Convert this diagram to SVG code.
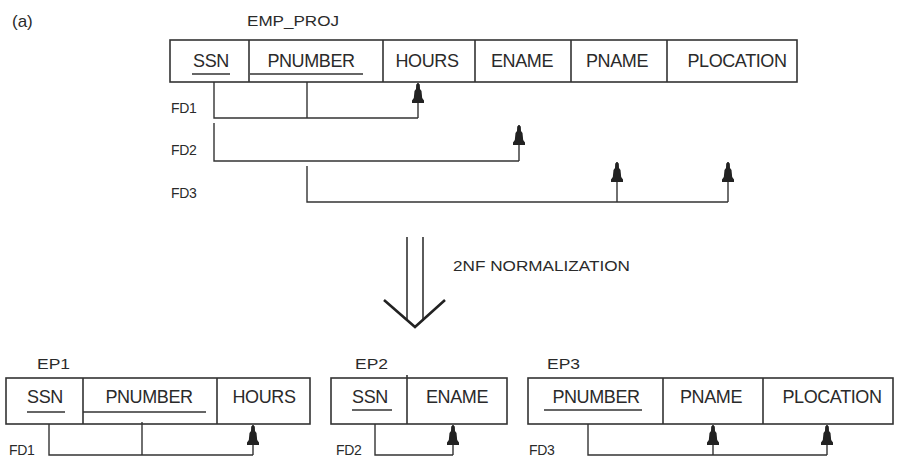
<svg xmlns="http://www.w3.org/2000/svg" width="898" height="457" viewBox="0 0 898 457">
<style>
  text { font-family: "Liberation Sans", Arial, sans-serif; fill: #2a2a2a; }
  .cell { font-size: 18px; text-anchor: middle; letter-spacing: -0.4px; }
  .lbl { font-size: 15px; }
  .fd { font-size: 14px; letter-spacing: -0.3px; }
  .box { fill: none; stroke: #333; stroke-width: 1.6; }
  .div { stroke: #333; stroke-width: 1.6; }
  .ul { stroke: #333; stroke-width: 1.4; }
  .fdl { fill: none; stroke: #333; stroke-width: 1.4; }
  .arr { fill: none; stroke: #333; stroke-width: 1.4; marker-end: url(#ah); }
</style>
<defs>
  <marker id="ah" markerUnits="userSpaceOnUse" markerWidth="26" markerHeight="16" viewBox="-2 -8 26 16" refX="20" refY="0" orient="auto" overflow="visible">
    <path d="M20,0 L18.5,-1.8 L14,-2 L12,-3.5 L5,-4.2 L2.5,-6 L0,-6 L0,6 L2.5,6 L5,4.2 L12,3.5 L14,2 L18.5,1.8 Z" fill="#222"/>
  </marker>
</defs>

<text x="12" y="27" font-size="17" font-family="Liberation Sans, Arial, sans-serif" fill="#2a2a2a">(a)</text>

<g id="emp_proj">
  <text x="247" y="26" class="lbl" textLength="92" lengthAdjust="spacingAndGlyphs">EMP_PROJ</text>
  <rect x="170" y="40" width="627" height="42" class="box"/>
  <line x1="249" y1="40" x2="249" y2="82" class="div"/>
  <line x1="383" y1="40" x2="383" y2="82" class="div"/>
  <line x1="475" y1="40" x2="475" y2="82" class="div"/>
  <line x1="571" y1="40" x2="571" y2="82" class="div"/>
  <line x1="667" y1="40" x2="667" y2="82" class="div"/>
  <text x="211" y="67" class="cell">SSN</text>
  <text x="311" y="67" class="cell">PNUMBER</text>
  <text x="427" y="67" class="cell">HOURS</text>
  <text x="522" y="67" class="cell">ENAME</text>
  <text x="617" y="67" class="cell">PNAME</text>
  <text x="737" y="67" class="cell">PLOCATION</text>
  <line x1="192" y1="74" x2="230" y2="74" class="ul"/>
  <line x1="250" y1="74" x2="363" y2="74" class="ul"/>
</g>

<g id="fd_top">
  <text x="171" y="113" class="fd">FD1</text>
  <text x="171" y="155" class="fd">FD2</text>
  <text x="171" y="198" class="fd">FD3</text>
  <polyline points="214,82 214,118 418,118" class="fdl"/>
  <line x1="307" y1="82" x2="307" y2="118" class="fdl"/>
  <line x1="418" y1="118" x2="418" y2="83" class="arr"/>
  <polyline points="214,123 214,161 519,161" class="fdl"/>
  <line x1="519" y1="161" x2="519" y2="125" class="arr"/>
  <polyline points="307,166 307,202 728,202" class="fdl"/>
  <line x1="617" y1="202" x2="617" y2="162" class="arr"/>
  <line x1="728" y1="202" x2="728" y2="162" class="arr"/>
</g>

<g id="normalization">
  <line x1="407" y1="237" x2="407" y2="321" stroke="#333" stroke-width="1.6"/>
  <line x1="423" y1="237" x2="423" y2="321" stroke="#333" stroke-width="1.6"/>
  <polyline points="384,300 415,327 445,300" fill="none" stroke="#222" stroke-width="2.6"/>
  <text x="453" y="271" class="lbl" textLength="177" lengthAdjust="spacingAndGlyphs">2NF NORMALIZATION</text>
</g>

<g id="ep1">
  <text x="37" y="369" class="lbl" textLength="33" lengthAdjust="spacingAndGlyphs">EP1</text>
  <rect x="6" y="378" width="304" height="46" class="box"/>
  <line x1="83" y1="378" x2="83" y2="424" class="div"/>
  <line x1="217" y1="378" x2="217" y2="424" class="div"/>
  <text x="45" y="403" class="cell">SSN</text>
  <text x="149" y="403" class="cell">PNUMBER</text>
  <text x="264" y="403" class="cell">HOURS</text>
  <line x1="27" y1="412" x2="65" y2="412" class="ul"/>
  <line x1="83" y1="412" x2="206" y2="412" class="ul"/>
  <text x="9" y="455" class="fd">FD1</text>
  <polyline points="49,424 49,455 253,455" class="fdl"/>
  <line x1="142" y1="422" x2="142" y2="455" class="fdl"/>
  <line x1="253" y1="455" x2="253" y2="425" class="arr"/>
</g>

<g id="ep2">
  <text x="355" y="369" class="lbl" textLength="33" lengthAdjust="spacingAndGlyphs">EP2</text>
  <rect x="331" y="378" width="176" height="46" class="box"/>
  <line x1="407" y1="375" x2="407" y2="424" class="div"/>
  <text x="370" y="403" class="cell">SSN</text>
  <text x="457" y="403" class="cell">ENAME</text>
  <line x1="352" y1="410" x2="392" y2="410" class="ul"/>
  <text x="336" y="455" class="fd">FD2</text>
  <polyline points="375,424 375,455 453,455" class="fdl"/>
  <line x1="453" y1="455" x2="453" y2="425" class="arr"/>
</g>

<g id="ep3">
  <text x="547" y="369" class="lbl" textLength="33" lengthAdjust="spacingAndGlyphs">EP3</text>
  <rect x="528" y="378" width="365" height="46" class="box"/>
  <line x1="663" y1="378" x2="663" y2="424" class="div"/>
  <line x1="763" y1="378" x2="763" y2="424" class="div"/>
  <text x="596" y="403" class="cell">PNUMBER</text>
  <text x="711" y="403" class="cell">PNAME</text>
  <text x="832" y="403" class="cell">PLOCATION</text>
  <line x1="544" y1="410" x2="642" y2="410" class="ul"/>
  <text x="529" y="455" class="fd">FD3</text>
  <polyline points="588,424 588,455 827,455" class="fdl"/>
  <line x1="713" y1="455" x2="713" y2="425" class="arr"/>
  <line x1="827" y1="455" x2="827" y2="425" class="arr"/>
</g>
</svg>
